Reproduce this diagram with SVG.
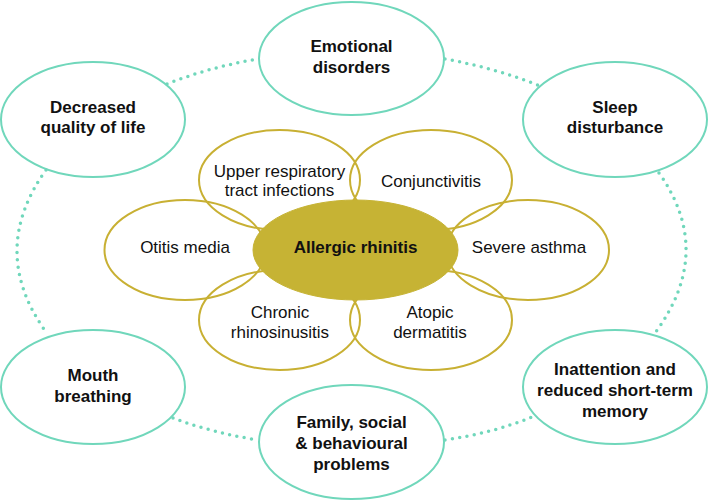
<svg xmlns="http://www.w3.org/2000/svg" width="709" height="501" viewBox="0 0 709 501">
<style>
.outer{fill:none;stroke:#70d7bb;stroke-width:2}
.petal{fill:none;stroke:#c8b033;stroke-width:2}
.core{fill:#c6b334;stroke:#c6b334;stroke-width:1}
.conn{fill:none;stroke:#70d7bb;stroke-width:3.5;stroke-linecap:round;stroke-dasharray:0 7.4}
.b{font-family:"Liberation Sans",Arial,sans-serif;font-weight:bold;font-size:17px;fill:#111;text-anchor:middle}
.r{font-family:"Liberation Sans",Arial,sans-serif;font-size:17px;fill:#111;text-anchor:middle}
</style>
<rect width="709" height="501" fill="#fff"/>
<g id="connectors">
<path class="conn" d="M167,84 Q210,67 258,59"/>
<path class="conn" d="M445,59 Q495,68 540,86"/>
<path class="conn" d="M659,173 Q715,252 655,333"/>
<path class="conn" d="M46,170 Q-12,251 46,332"/>
<path class="conn" d="M173,418 Q213,433 258,440"/>
<path class="conn" d="M445,440 Q493,433 532,417"/>
</g>
<g id="emotional"><ellipse class="outer" cx="351.5" cy="58.5" rx="92.5" ry="56.5"/><text class="b" x="351.5" y="52">Emotional</text><text class="b" x="351.5" y="73">disorders</text></g>
<g id="decreased"><ellipse class="outer" cx="93" cy="119.5" rx="92" ry="57.5"/><text class="b" x="93" y="113">Decreased</text><text class="b" x="93" y="133">quality of life</text></g>
<g id="sleep"><ellipse class="outer" cx="615" cy="119.5" rx="92" ry="57.5"/><text class="b" x="615" y="113">Sleep</text><text class="b" x="615" y="133">disturbance</text></g>
<g id="mouth"><ellipse class="outer" cx="93" cy="387" rx="92" ry="57"/><text class="b" x="93" y="381">Mouth</text><text class="b" x="93" y="402">breathing</text></g>
<g id="family"><ellipse class="outer" cx="351.5" cy="442" rx="92.5" ry="57"/><text class="b" x="351.5" y="428">Family, social</text><text class="b" x="351.5" y="449">&amp; behavioural</text><text class="b" x="351.5" y="470">problems</text></g>
<g id="inattention"><ellipse class="outer" cx="615" cy="387" rx="92" ry="57"/><text class="b" x="615" y="375">Inattention and</text><text class="b" x="615" y="396">reduced short-term</text><text class="b" x="615" y="417">memory</text></g>
<g id="upper"><ellipse class="petal" cx="279.5" cy="180" rx="80.5" ry="50"/><text class="r" x="279.5" y="177">Upper respiratory</text><text class="r" x="279.5" y="196">tract infections</text></g>
<g id="conjunctivitis"><ellipse class="petal" cx="431" cy="180" rx="81" ry="50"/><text class="r" x="431" y="187">Conjunctivitis</text></g>
<g id="otitis"><ellipse class="petal" cx="185" cy="250" rx="80.5" ry="50"/><text class="r" x="185" y="253">Otitis media</text></g>
<g id="asthma"><ellipse class="petal" cx="528" cy="250" rx="81" ry="50"/><text class="r" x="529" y="253">Severe asthma</text></g>
<g id="chronic"><ellipse class="petal" cx="279.5" cy="320" rx="80.5" ry="50"/><text class="r" x="280" y="318">Chronic</text><text class="r" x="280" y="338">rhinosinusitis</text></g>
<g id="atopic"><ellipse class="petal" cx="431" cy="320" rx="81" ry="50"/><text class="r" x="430" y="318">Atopic</text><text class="r" x="430" y="338">dermatitis</text></g>
<g id="allergic"><ellipse class="core" cx="355.5" cy="250" rx="102.5" ry="50"/><text class="b" x="355.5" y="253">Allergic rhinitis</text></g>
</svg>
